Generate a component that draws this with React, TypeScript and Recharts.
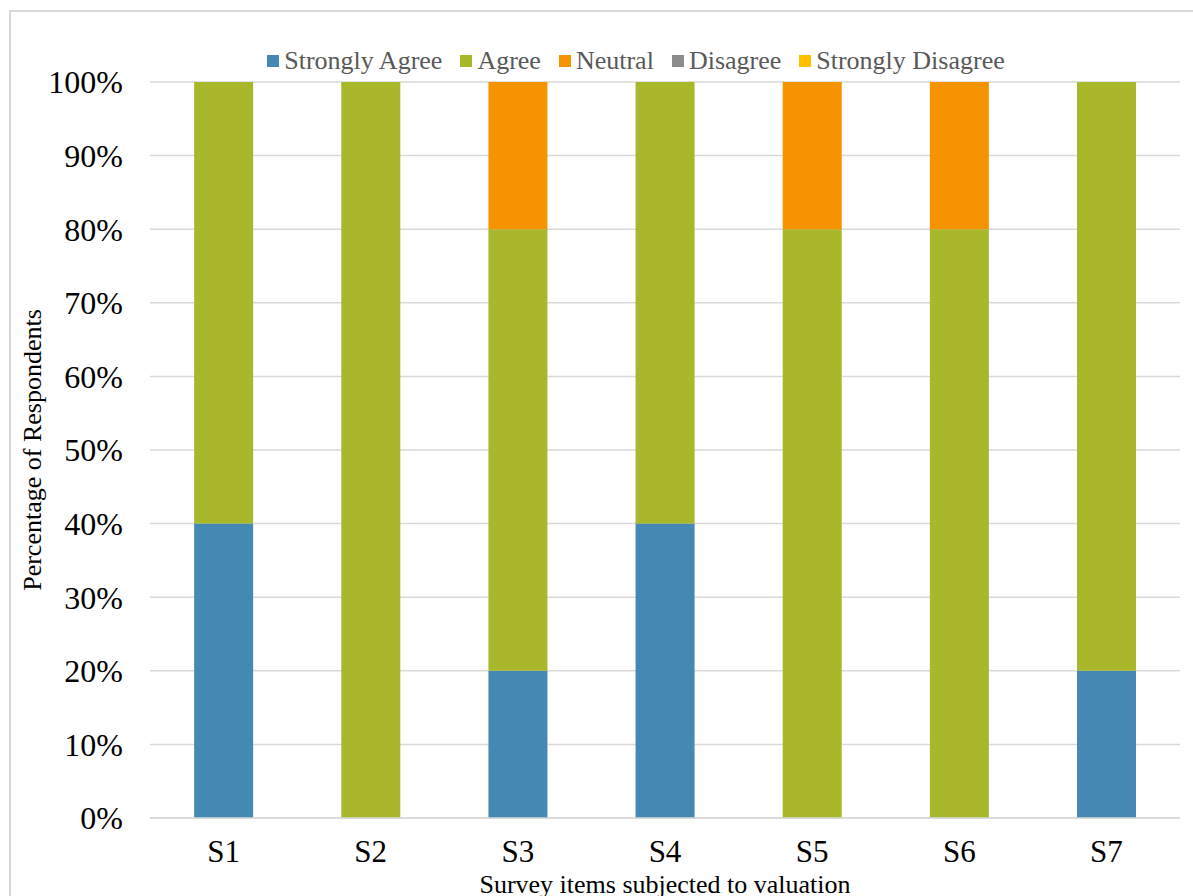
import { Bar, BarChart, CartesianGrid, XAxis, YAxis } from "recharts"

const items = ["S1", "S2", "S3", "S4", "S5", "S6", "S7"]
const stronglyAgree = [40, 0, 20, 40, 0, 0, 20]
const agree = [60, 100, 60, 60, 80, 80, 80]
const neutral = [0, 0, 20, 0, 20, 20, 0]
const disagree = [0, 0, 0, 0, 0, 0, 0]
const stronglyDisagree = [0, 0, 0, 0, 0, 0, 0]
const yTicks = [0, 10, 20, 30, 40, 50, 60, 70, 80, 90, 100]

const series = [
  { key: "sa", name: "Strongly Agree", color: "#4389b4", values: stronglyAgree },
  { key: "a", name: "Agree", color: "#a8b82a", values: agree },
  { key: "n", name: "Neutral", color: "#f59300", values: neutral },
  { key: "d", name: "Disagree", color: "#8c8c8c", values: disagree },
  { key: "sd", name: "Strongly Disagree", color: "#ffc000", values: stronglyDisagree },
]

const data = items.map((name, i) => {
  const row: Record<string, string | number> = { name }
  series.forEach((s) => (row[s.key] = s.values[i]))
  return row
})

const font = "'Liberation Serif', 'Times New Roman', serif"

// legend sits above the plot, centred a bit left of the plot centre like the original
function LegendRow() {
  return (
    <div
      style={{
        position: "absolute",
        top: 46,
        left: 0,
        width: 1290,
        display: "flex",
        justifyContent: "center",
        fontFamily: font,
        fontSize: 26,
        color: "#595959",
      }}
    >
      {series.map((s) => (
        <div key={s.key} style={{ display: "flex", alignItems: "center", marginRight: 18 }}>
          <span style={{ width: 12, height: 12, background: s.color, display: "inline-block", marginRight: 5 }} />
          <span>{s.name}</span>
        </div>
      ))}
    </div>
  )
}

export default function App() {
  return (
    <div style={{ position: "absolute", left: 0, top: 0, width: 1193, height: 896, overflow: "hidden", background: "#fff" }}>
      <div style={{ position: "absolute", left: 9, top: 10, width: 1200, height: 900, border: "2px solid #d9d9d9" }} />
      <BarChart
        width={1193}
        height={896}
        data={data}
        margin={{ top: 82, right: 13, bottom: 0, left: 0 }}
        barCategoryGap="30%"
        style={{ position: "absolute", left: 0, top: 0 }}
      >
        <CartesianGrid vertical={false} stroke="#d9d9d9" strokeWidth={1.5} />
        <XAxis
          dataKey="name"
          height={78}
          tickLine={false}
          tickSize={0}
          tickMargin={22}
          axisLine={{ stroke: "#d9d9d9", strokeWidth: 1.5 }}
          tick={{ fill: "#000", fontSize: 31, fontFamily: font }}
          label={{
            content: ({ viewBox }: any) => (
              <text
                x={viewBox.x + viewBox.width / 2}
                y={viewBox.y + viewBox.height - 3}
                textAnchor="middle"
                fill="#000"
                fontSize={26}
                fontFamily={font}
              >
                Survey items subjected to valuation
              </text>
            ),
          }}
        />
        <YAxis
          width={150}
          domain={[0, 100]}
          ticks={yTicks}
          tickFormatter={(v) => `${v}%`}
          tickLine={false}
          axisLine={false}
          tickSize={0}
          tickMargin={27}
          tick={{ fill: "#000", fontSize: 32, fontFamily: font }}
          label={{
            content: ({ viewBox }: any) => {
              const cx = 41
              const cy = viewBox.y + viewBox.height / 2
              return (
                <text
                  x={cx}
                  y={cy}
                  transform={`rotate(-90 ${cx} ${cy})`}
                  textAnchor="middle"
                  fill="#000"
                  fontSize={26}
                  fontFamily={font}
                >
                  Percentage of Respondents
                </text>
              )
            },
          }}
        />
        {series.map((s) => (
          <Bar key={s.key} dataKey={s.key} name={s.name} stackId="x" fill={s.color} isAnimationActive={false} />
        ))}
      </BarChart>
      <LegendRow />
    </div>
  )
}
